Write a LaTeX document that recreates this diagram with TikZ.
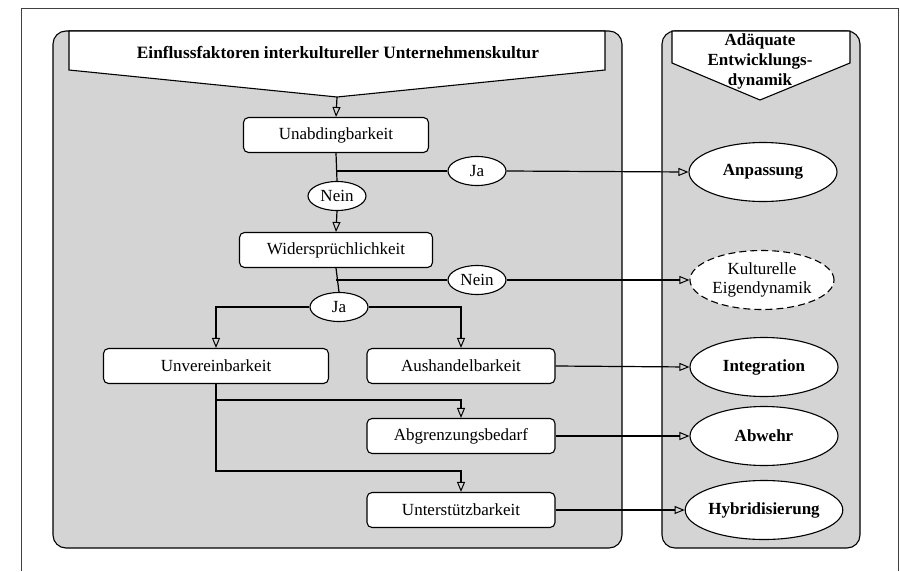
\documentclass[tikz,border=0pt]{standalone}
\usepackage{fontspec}
\setmainfont{Liberation Serif}
\usetikzlibrary{shapes.geometric,arrows.meta}

\tikzset{
  panel/.style={draw=black, line width=1.1pt, fill=black!17, rounded corners=13pt},
  banner/.style={draw=black, line width=1.1pt, fill=white},
  factor/.style={draw=black, line width=1.1pt, fill=white, rectangle, rounded corners=5pt,
                 minimum height=35pt, inner sep=0pt, font=\fontsize{17}{19}\selectfont},
  answer/.style={draw=black, line width=1.1pt, fill=white, ellipse, minimum width=58pt,
                 minimum height=29pt, inner sep=0pt, font=\fontsize{17}{19}\selectfont},
  result/.style={draw=black, line width=1.1pt, fill=white, ellipse, minimum width=148pt,
                 minimum height=59pt, inner sep=0pt, font=\bfseries\fontsize{17}{19}\selectfont},
  link/.style={draw=black, line width=1.2pt},
  arr/.style={link, -{Triangle[open, length=10pt, width=8pt, line width=1pt]}},
}

\begin{document}
\begin{tikzpicture}[x=1pt, y=-1pt]
  \useasboundingbox (0,0) rectangle (900,571);

  % outer frame (open at the bottom)
  \draw[black!75, line width=0.8pt] (21,571) -- (21,8) -- (898,8) -- (898,571);

  % the two panels
  \path[panel] (53,31) rectangle (622,548);
  \path[panel] (662,31) rectangle (860,548);

  % banner of the left panel
  \path[banner] (69,31) -- (69,70) -- (337,97) -- (605,70) -- (605,31) -- cycle;
  \coordinate (tipL) at (337,97);
  \node[font=\bfseries\fontsize{17.3}{19}\selectfont] (titleL) at (338,53)
    {Einflussfaktoren interkultureller Unternehmenskultur};

  % banner of the right panel
  \path[banner] (672,31) -- (672,63) -- (760,100) -- (850,63) -- (850,31) -- cycle;
  \node[font=\bfseries\fontsize{17}{20}\selectfont, align=center] (titleR) at (760,61)
    {Adäquate\\Entwicklungs-\\dynamik};

  % factors
  \node[factor, minimum width=185pt] (unab)  at (336,135) {Unabdingbarkeit};
  \node[factor, minimum width=193pt] (wider) at (336,250) {Widersprüchlichkeit};
  \node[factor, minimum width=225pt] (unver) at (216,366) {Unvereinbarkeit};
  \node[factor, minimum width=188pt] (aush)  at (461,366) {Aushandelbarkeit};
  \node[factor, minimum width=188pt] (abgr)  at (461,436) {Abgrenzungsbedarf};
  \node[factor, minimum width=188pt] (unter) at (461,510) {Unterstützbarkeit};

  % answers
  \node[answer] (nein1) at (337,196) {Nein};
  \node[answer] (ja1)   at (477,171) {Ja};
  \node[answer] (nein2) at (477,280) {Nein};
  \node[answer] (ja2)   at (339,307) {Ja};

  % resulting dynamics
  \node[result] (anp)   at (763,172) {Anpassung};
  \node[result, dash pattern=on 7pt off 4pt, font=\fontsize{17}{19}\selectfont, align=center,
        minimum width=144pt] (kult) at (762,280) {Kulturelle\\Eigendynamik};
  \node[result] (integ) at (764,367) {Integration};
  \node[result] (abw)   at (764,436) {Abwehr};
  \node[result] (hyb)   at (764,510) {Hybridisierung};

  % junction points
  \coordinate (j1) at (336,171);
  \coordinate (j2) at (336,280);
  \coordinate (b1) at (461,400);
  \coordinate (b2) at (461,471);

  % connectors
  \draw[arr] (tipL) -- (unab.north);
  \draw[link] (unab.south) -- (nein1.north);
  \draw[arr] (nein1.south) -- (wider.north);
  \draw[link] (j1) -- (ja1.west);
  \draw[arr] (ja1.east) -- (anp.west);

  \draw[link] (wider.south) -- (ja2.north);
  \draw[link] (j2) -- (nein2.west);
  \draw[arr] (nein2.east) -- (kult.west);

  \draw[arr] (ja2.west) -| (unver.north);
  \draw[arr] (ja2.east) -| (aush.north);
  \draw[arr] (aush.east) -- (integ.west);

  \draw[arr] (unver.south) |- (b1) -- (abgr.north);
  \draw[arr] (unver.south) |- (b2) -- (unter.north);
  \draw[arr] (abgr.east) -- (abw.west);
  \draw[arr] (unter.east) -- (hyb.west);
\end{tikzpicture}
\end{document}
